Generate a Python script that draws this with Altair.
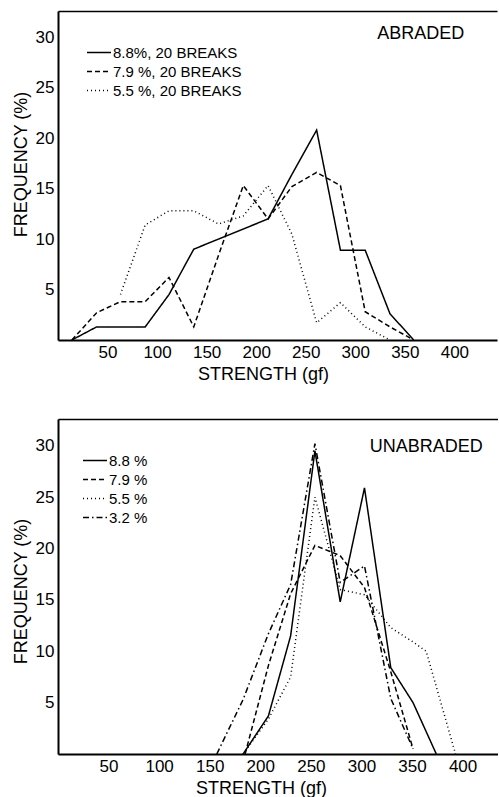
import altair as alt
import pandas as pd

FONT = "Liberation Sans"

# ---------------- ABRADED (top panel) ----------------
top_labels = ["8.8%, 20 BREAKS", "7.9 %, 20 BREAKS", "5.5 %, 20 BREAKS"]
top_x_88 = [14, 39, 63, 88, 112, 137, 162, 187, 212, 236, 261, 285, 310, 335, 359]
top_y_88 = [0, 1.3, 1.3, 1.3, 4.5, 9.0, 10.0, 11.0, 12.0, 16.4, 20.8, 8.9, 8.9, 2.6, 0]
top_x_79 = [14, 39, 63, 88, 112, 137, 162, 187, 212, 236, 261, 285, 310, 335, 359]
top_y_79 = [0, 2.7, 3.8, 3.8, 6.2, 1.3, 8.4, 15.3, 12.0, 15.2, 16.6, 15.3, 2.8, 1.3, 0]
top_x_55 = [63, 88, 112, 137, 162, 187, 212, 236, 261, 285, 310, 335]
top_y_55 = [4.5, 11.4, 12.8, 12.8, 11.5, 12.3, 15.3, 10.5, 1.7, 3.7, 1.3, 0]

# ---------------- UNABRADED (bottom panel) ----------------
bot_labels = ["8.8 %", "7.9 %", "5.5 %", "3.2 %"]
bot_x_88 = [183, 208, 230, 254, 279, 303, 329, 351, 374]
bot_y_88 = [0, 3.7, 11.5, 29.5, 14.8, 25.9, 8.4, 5.0, 0]
bot_x_79 = [185, 208, 230, 254, 279, 303, 329, 351]
bot_y_79 = [0, 8.6, 15.6, 20.3, 19.3, 16.2, 8.0, 0.5]
bot_x_55 = [183, 208, 230, 254, 279, 303, 329, 351, 364, 393]
bot_y_55 = [0, 3.4, 7.5, 25.0, 16.0, 15.5, 12.3, 10.9, 10.0, 0]
bot_x_32 = [157, 183, 208, 230, 254, 279, 303, 329, 351]
bot_y_32 = [0, 5.3, 11.7, 16.5, 30.2, 16.7, 18.3, 5.4, 0.5]

x_ticks = [50, 100, 150, 200, 250, 300, 350, 400]
y_ticks = [5, 10, 15, 20, 25, 30]

dash_styles = [[1, 0], [5, 3], [1, 3], [6, 3, 1.5, 3]]


def build_df(labels, xs_list, ys_list):
    rows = []
    for lab, xs, ys in zip(labels, xs_list, ys_list):
        for x, y in zip(xs, ys):
            rows.append({"series": lab, "strength": x, "freq": y})
    return pd.DataFrame(rows)


def panel(df, labels, xmax, width, height, legend_x, legend_y, ann_df, xtitle_x, ytitle_y):
    xscale = alt.Scale(domain=[0, xmax], nice=False, zero=False)
    yscale = alt.Scale(domain=[0, 32.6], nice=False)
    lines = alt.Chart(df).mark_line(color="black", strokeWidth=1.5).encode(
        x=alt.X("strength:Q", scale=xscale,
                axis=alt.Axis(values=x_ticks, title="STRENGTH (gf)", orient="bottom",
                              titleX=xtitle_x, titleAnchor="start", titleAlign="center")),
        y=alt.Y("freq:Q", scale=yscale,
                axis=alt.Axis(values=y_ticks, title="FREQUENCY (%)",
                              titleY=ytitle_y, titleAlign="center")),
        strokeDash=alt.StrokeDash(
            "series:N",
            scale=alt.Scale(domain=labels, range=dash_styles[:len(labels)]),
            legend=alt.Legend(
                orient="none", legendX=legend_x, legendY=legend_y, title=None,
                symbolType="stroke", symbolSize=576, symbolStrokeWidth=1.4,
                symbolStrokeColor="black", labelFont=FONT, labelFontSize=15,
                labelColor="black", clipHeight=13, rowPadding=3, labelOffset=1,
            ),
        ),
        order=alt.Order("strength:Q"),
    )
    ann = alt.Chart(ann_df).mark_text(
        font=FONT, fontSize=18, color="black", baseline="middle", align="center"
    ).encode(
        x=alt.X("ax:Q", scale=xscale,
                axis=alt.Axis(orient="top", labels=False, ticks=False, title=None,
                              domainWidth=1.3, grid=False)),
        y=alt.Y("ay:Q", scale=yscale),
        text="label:N",
    )
    return alt.layer(lines, ann).resolve_axis(x="independent").properties(
        width=width, height=height
    )


top_df = build_df(top_labels, [top_x_88, top_x_79, top_x_55], [top_y_88, top_y_79, top_y_55])
bot_df = build_df(bot_labels, [bot_x_88, bot_x_79, bot_x_55, bot_x_32],
                  [bot_y_88, bot_y_79, bot_y_55, bot_y_32])

top_ann = pd.DataFrame({"ax": [366], "ay": [30.3], "label": ["ABRADED"]})
bot_ann = pd.DataFrame({"ax": [364], "ay": [29.9], "label": ["UNABRADED"]})

top = panel(top_df, top_labels, 443, 439, 329, 28, 35, top_ann, 205, 153)
bot = panel(bot_df, bot_labels, 435, 440, 335, 24, 35, bot_ann, 203, 172)

chart = alt.vconcat(top, bot, spacing=36).resolve_scale(
    strokeDash="independent"
).resolve_legend(strokeDash="independent").properties(
    padding={"left": 12, "top": 11, "right": 0, "bottom": 4}
).configure_view(stroke=None).configure_axis(
    labelFont=FONT, titleFont=FONT, labelFontSize=17, titleFontSize=18,
    labelColor="black", titleColor="black", titleFontWeight="normal",
    ticks=False, grid=False, domainColor="black", domainWidth=2,
    labelPadding=4, titlePadding=5,
)

chart.save("out.html", embed_options={"renderer": "svg", "actions": False})
